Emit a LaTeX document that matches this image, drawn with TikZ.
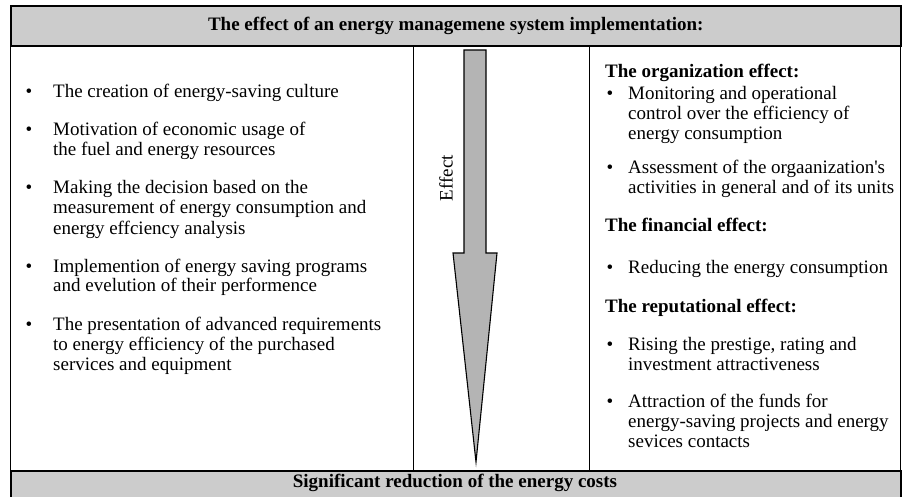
\documentclass[tikz,border=0pt]{standalone}
\usepackage{fontspec}
\setmainfont{Liberation Serif}
\definecolor{bargray}{RGB}{204,204,204}
\definecolor{arrowgray}{RGB}{180,180,180}
\newcommand{\bodyfont}{\fontsize{19}{20}\selectfont}
\newcommand{\txtlines}[1]{\begin{tabular}[t]{@{}l@{}}#1\end{tabular}}

\begin{document}
\begin{tikzpicture}[x=1pt,y=-1pt,
    box/.style={draw,line width=1.3pt,inner sep=0pt,anchor=north west},
    bar/.style={box,line width=1.6pt,fill=bargray,font=\bodyfont\bfseries},
    bul/.style={anchor=base,inner sep=0pt,font=\bodyfont},
    itm/.style={anchor=base west,inner sep=0pt,font=\bodyfont},
    hd/.style={itm,font=\bodyfont\bfseries}]

    \useasboundingbox (0,0) rectangle (902,497);

    % columns
    \node[box,minimum width=403pt,minimum height=425pt] (left) at (10,45) {};
    \node[box,minimum width=176pt,minimum height=425pt] (mid) at (413,45) {};
    \node[box,minimum width=311pt,minimum height=425pt] (right) at (589,45) {};

    % bars
    \node[bar,minimum width=890pt,minimum height=40pt] (head) at (10,5)
        {The effect of an energy managemene system implementation:};
    \node[bar,minimum width=890pt,minimum height=30pt] (foot) at (10,470) {};
    \node[font=\bodyfont\bfseries,inner sep=0pt] (foottxt) at (455,483)
        {Significant reduction of the energy costs};

    % left list
    \node[bul] (lb1) at (29,98) {\textbullet};
    \node[itm] (l1) at (53,98) {The creation of energy-saving culture};
    \node[bul] (lb2) at (29,136) {\textbullet};
    \node[itm] (l2) at (53,136) {\txtlines{Motivation of economic usage of\\the fuel and energy resources}};
    \node[bul] (lb3) at (29,194) {\textbullet};
    \node[itm] (l3) at (53,194) {\txtlines{Making the decision based on the\\measurement of energy consumption and\\energy effciency analysis}};
    \node[bul] (lb4) at (29,272) {\textbullet};
    \node[itm] (l4) at (53,272) {\txtlines{Implemention of energy saving programs\\and evelution of their performence}};
    \node[bul] (lb5) at (29,330) {\textbullet};
    \node[itm] (l5) at (53,330) {\txtlines{The presentation of advanced requirements\\to energy efficiency of the purchased\\services and equipment}};

    % arrow
    \draw[line width=1.1pt,fill=arrowgray,line join=miter]
        (464,50) -- (486,50) -- (486,253) -- (497,253) -- (476,462)
        -- (453,253) -- (464,253) -- cycle;
    \node[font=\bodyfont,rotate=90,inner sep=0pt] (eff) at (446,178) {Effect};

    % right list
    \node[hd] (r1) at (605,78) {The organization effect:};
    \node[bul] (rb1) at (610,100) {\textbullet};
    \node[itm] (r2) at (628,100) {\txtlines{Monitoring and operational\\control over the efficiency of\\energy consumption}};
    \node[bul] (rb2) at (610,174) {\textbullet};
    \node[itm] (r3) at (628,174) {\txtlines{Assessment of the orgaanization\textquotesingle s\\activities in general and of its units}};
    \node[hd] (r4) at (605,232) {The financial effect:};
    \node[bul] (rb3) at (610,273) {\textbullet};
    \node[itm] (r5) at (628,273) {Reducing the energy consumption};
    \node[hd] (r6) at (605,312) {The reputational effect:};
    \node[bul] (rb4) at (610,350) {\textbullet};
    \node[itm] (r7) at (628,350) {\txtlines{Rising the prestige, rating and\\investment attractiveness}};
    \node[bul] (rb5) at (610,407) {\textbullet};
    \node[itm] (r8) at (628,407) {\txtlines{Attraction of the funds for\\energy-saving projects and energy\\sevices contacts}};

\end{tikzpicture}
\end{document}
